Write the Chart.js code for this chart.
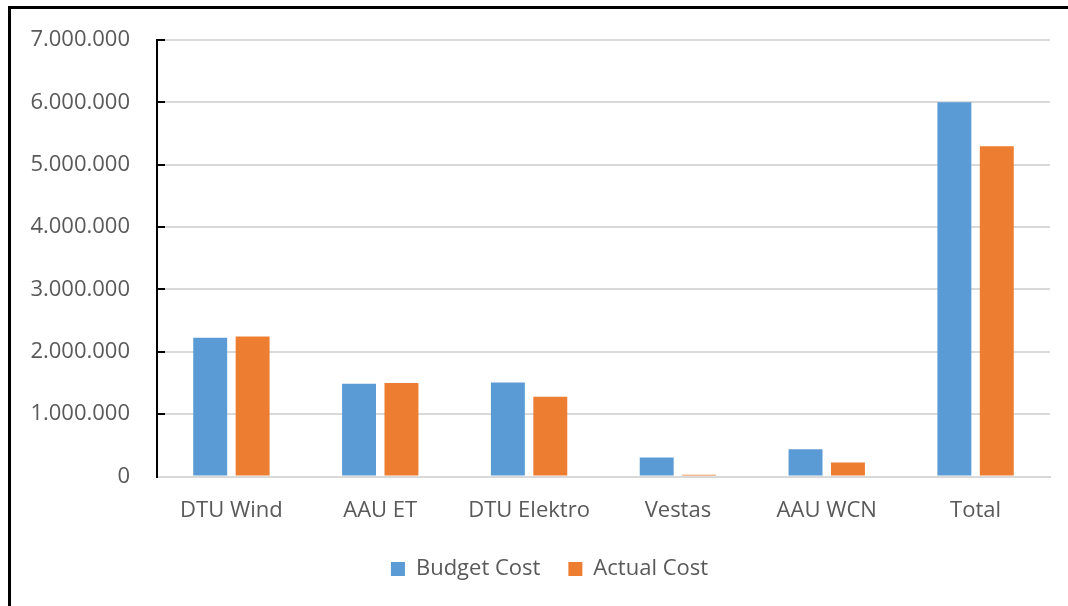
<!DOCTYPE html>
<html>
<head>
<meta charset="utf-8">
<script src="https://cdn.jsdelivr.net/npm/chart.js@4"></script>
<style>
    html, body { margin: 0; padding: 0; background: #fff; overflow: hidden; }
    #frame {
        position: absolute; left: 8px; top: 6px; width: 1060px; height: 600px;
        border-top: 3px solid #000; border-left: 3px solid #000; box-sizing: border-box;
    }
</style>
</head>
<body>
<div id="frame"><canvas id="cost-chart" width="1057" height="597"></canvas></div>
<script>
const categories = ['DTU Wind', 'AAU ET', 'DTU Elektro', 'Vestas', 'AAU WCN', 'Total'];
const budgetCost = [2225000, 1490000, 1510000, 305000, 440000, 6000000];
const actualCost = [2245000, 1500000, 1280000, 30000, 225000, 5295000];
const seriesNames = ['Budget Cost', 'Actual Cost'];
const seriesColors = ['#5B9BD5', '#ED7D31'];

const textColor = '#595959';
const fontFamily = "'Open Sans', 'DejaVu Sans', sans-serif";

function formatThousands(value) {
    return String(value).replace(/\B(?=(\d{3})+(?!\d))/g, '.');
}

// Excel-style inner tick marks on the value axis
const innerTicks = {
    id: 'innerTicks',
    afterDraw(chart) {
        const yScale = chart.scales.y;
        const ctx = chart.ctx;
        ctx.save();
        ctx.strokeStyle = '#000';
        ctx.lineWidth = 2;
        yScale.ticks.forEach((tick) => {
            if (tick.value <= 0) return;
            const y = Math.round(yScale.getPixelForValue(tick.value));
            ctx.beginPath();
            ctx.moveTo(yScale.right, y);
            ctx.lineTo(yScale.right + 8, y);
            ctx.stroke();
        });
        ctx.restore();
    }
};

// legend in the original sits a bit right of the canvas centre
const legendShift = {
    id: 'legendShift',
    afterLayout(chart) {
        chart.legend.left += 19;
        chart.legend.right += 19;
    }
};

new Chart(document.getElementById('cost-chart'), {
    type: 'bar',
    data: {
        labels: categories,
        datasets: [{
            label: seriesNames[0],
            data: budgetCost,
            backgroundColor: seriesColors[0],
            categoryPercentage: 0.57,
            barPercentage: 0.8
        }, {
            label: seriesNames[1],
            data: actualCost,
            backgroundColor: seriesColors[1],
            categoryPercentage: 0.57,
            barPercentage: 0.8
        }]
    },
    options: {
        responsive: false,
        animation: false,
        layout: {
            padding: {top: 31, right: 18, bottom: 16, left: 0}
        },
        plugins: {
            tooltip: {enabled: false},
            legend: {
                position: 'bottom',
                labels: {
                    color: textColor,
                    font: {family: fontFamily, size: 22},
                    boxWidth: 14,
                    boxHeight: 14,
                    padding: 28
                }
            }
        },
        scales: {
            x: {
                afterFit(scale) {
                    scale.height -= 7;
                },
                grid: {display: false},
                border: {color: '#D9D9D9', width: 2},
                ticks: {
                    color: textColor,
                    font: {family: fontFamily, size: 22},
                    padding: 13
                }
            },
            y: {
                min: 0,
                max: 7000000,
                afterFit(scale) {
                    scale.width = 146;
                },
                grid: {
                    color: '#D9D9D9',
                    lineWidth: 2,
                    drawTicks: true,
                    tickLength: 27,
                    tickColor: 'rgba(0,0,0,0)'
                },
                border: {color: '#000', width: 2},
                ticks: {
                    stepSize: 1000000,
                    color: textColor,
                    font: {family: fontFamily, size: 22},
                    padding: 0,
                    callback: (value) => formatThousands(value)
                }
            }
        }
    },
    plugins: [innerTicks, legendShift]
});
</script>
</body>
</html>
